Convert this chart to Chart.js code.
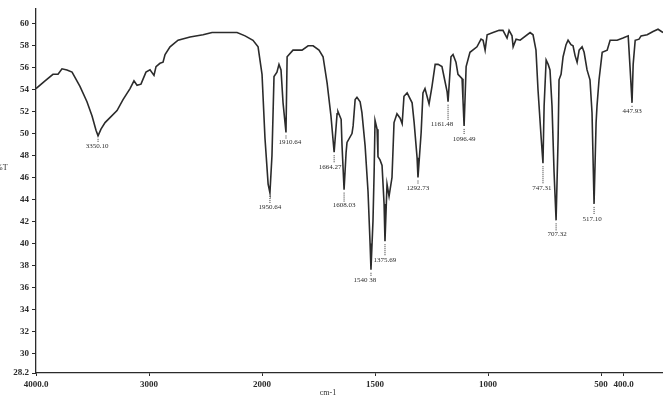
<!DOCTYPE html>
<html>
<head>
<meta charset="utf-8">
<script src="https://cdn.jsdelivr.net/npm/chart.js@4/dist/chart.umd.min.js"></script>
<style>
  html, body { margin: 0; padding: 0; background: #fff; }
  #wrap { width: 663px; height: 403px; position: relative; }
</style>
</head>
<body>
<div id="wrap"><canvas id="ir"></canvas></div>
<script>
// spectrum: wavenumber (cm-1) and %T
var wavenumber = [4000, 3920, 3850, 3805, 3770, 3726, 3681, 3611, 3549, 3504, 3469, 3451, 3425, 3389, 3283, 3230, 3168, 3133, 3106, 3071,
    3027, 2991, 2956, 2938, 2903, 2876, 2858, 2814, 2743, 2637, 2522, 2442, 2221, 2150, 2080, 2035, 2000,
    1987, 1973, 1965, 1956, 1947, 1934, 1925, 1916, 1907, 1894, 1889, 1863, 1823, 1796, 1774, 1748, 1730, 1712, 1695,
    1681, 1668, 1664, 1650, 1646, 1637, 1628, 1624, 1602, 1597, 1588, 1580, 1566, 1558, 1544, 1531, 1522, 1518, 1509,
    1504, 1500, 1491, 1487, 1478, 1469, 1460, 1456, 1447, 1438, 1425, 1416, 1403, 1389, 1380, 1372, 1358, 1336, 1327,
    1314, 1310, 1296, 1288, 1279, 1270, 1261, 1248, 1234, 1221, 1204, 1195, 1181, 1177, 1164, 1155, 1142, 1133, 1115,
    1111, 1106, 1097, 1080, 1049, 1031, 1022, 1013, 1004, 978, 951, 934, 916, 907, 894, 889, 876, 858, 814, 801,
    788, 779, 765, 757, 752, 743, 734, 726, 717, 708, 699, 690, 686, 677, 668, 655, 646, 633, 624, 615,
    606, 597, 584, 575, 562, 549, 540, 531, 522, 518, 509, 495, 473, 460, 429, 403, 380, 372, 363, 358,
    349, 332, 323, 296, 270, 248, 226];
var transmittance = [54.1, 54.8, 55.4, 55.4, 55.9, 55.8, 55.6, 54.3, 52.9, 51.6, 50.3, 49.8, 50.4, 51.0, 52.1, 53.1, 54.1, 54.8, 54.4, 54.5,
    55.6, 55.8, 55.3, 56.1, 56.4, 56.5, 57.2, 57.9, 58.5, 58.8, 59.0, 59.2, 59.2, 58.9, 58.5, 57.9, 55.4,
    49.6, 45.4, 44.6, 48.0, 55.2, 55.6, 56.3, 55.8, 52.8, 50.1, 57.0, 57.6, 57.6, 58.0, 58.0, 57.6, 57.0, 54.6, 51.6,
    48.3, 51.8, 52.0, 51.3, 48.9, 44.9, 48.3, 49.2, 50.0, 50.7, 53.1, 53.3, 52.9, 51.9, 48.9, 44.7, 40.0, 37.6, 42.1,
    46.5, 51.2, 50.4, 47.9, 47.6, 47.1, 43.6, 40.2, 45.4, 44.3, 46.0, 51.0, 51.8, 51.4, 50.9, 53.4, 53.7, 52.8, 51.0,
    47.8, 46.0, 50.1, 53.7, 54.1, 53.4, 52.7, 54.3, 56.3, 56.3, 56.1, 55.2, 53.8, 52.9, 57.0, 57.2, 56.5, 55.4, 55.0,
    53.1, 50.7, 56.1, 57.4, 57.9, 58.6, 58.5, 57.6, 59.0, 59.2, 59.4, 59.4, 58.7, 59.4, 58.9, 57.9, 58.6, 58.5, 59.2, 59.0,
    57.6, 54.0, 49.6, 47.3, 52.5, 56.7, 56.3, 55.8, 52.5, 46.5, 42.1, 49.6, 54.9, 55.4, 57.0, 58.1, 58.5, 58.1, 58.0, 57.1,
    56.5, 57.6, 57.9, 57.4, 55.8, 54.9, 51.9, 43.6, 51.0, 52.5, 54.9, 57.4, 57.6, 58.5, 58.5, 58.7, 58.9, 56.1, 52.8, 56.3,
    58.5, 58.6, 58.9, 59.0, 59.3, 59.5, 59.2];

// printed peak annotations, anchored on the matching dip
var peakWn = [3451, 1965, 1894, 1681, 1637, 1518, 1456, 1310, 1177, 1106, 757, 699, 531, 363];
var peakText = ['3350.10', '1950.64', '1910.64', '1664.27', '1608.03', '1540 38', '1375.69', '1292.73', '1161.48', '1096.49', '747.31', '707.32', '517.10', '447.93'];

var xTickWn = [4000, 3000, 2000, 1500, 1000, 500, 400];
var xTickText = ['4000.0', '3000', '2000', '1500', '1000', '500', '400.0'];
var yTickValues = [28.2, 30, 32, 34, 36, 38, 40, 42, 44, 46, 48, 50, 52, 54, 56, 58, 60];

// the chart paper halves the scale below 2000 cm-1
function toPos(wn) {
    return wn >= 2000 ? (4000 - wn) / 2 : 1000 + (2000 - wn);
}

// label placement (dx, dy from the dip, pixels)
var labelNudge = [[-1, 10], [0, 14], [4, 10], [-4, 15], [0, 16], [-6, 10], [0, 19], [0, 11], [-6, 22], [0, 13], [-1, 25], [1, 14], [-2, 15], [0, 8]];

var ink = '#2b2b2b';
var tickFont = { family: 'Liberation Serif', size: 9, weight: 'bold' };

var peakPlugin = {
    id: 'peaks',
    afterDatasetsDraw: function (chart) {
        var ctx = chart.ctx;
        var xs = chart.scales.x, ys = chart.scales.y;
        ctx.save();
        ctx.font = '7px "Liberation Serif"';
        ctx.fillStyle = ink;
        ctx.textAlign = 'center';
        ctx.textBaseline = 'middle';
        peakWn.forEach(function (wn, i) {
            var idx = wavenumber.indexOf(wn);
            var px = xs.getPixelForValue(toPos(wn));
            var py = ys.getPixelForValue(transmittance[idx]);
            var lx = px + labelNudge[i][0];
            var ly = py + labelNudge[i][1];
            // dotted leader
            for (var d = py + 3; d < ly - 4; d += 2) {
                ctx.fillRect(px - 0.5, d, 1, 1);
            }
            ctx.fillText(peakText[i], lx, ly);
        });
        // axis captions
        ctx.font = '8px "Liberation Serif"';
        ctx.textAlign = 'left';
        ctx.fillText('%T', -4, 168);
        ctx.textAlign = 'center';
        ctx.fillText('cm-1', 328, 393);
        ctx.restore();
    }
};

var points = wavenumber.map(function (wn, i) {
    return { x: toPos(wn), y: transmittance[i] };
});

new Chart(document.getElementById('ir'), {
    type: 'line',
    data: {
        datasets: [{
            data: points,
            borderColor: ink,
            borderWidth: 1.6,
            pointRadius: 0,
            tension: 0,
            fill: false
        }]
    },
    options: {
        responsive: true,
        maintainAspectRatio: false,
        animation: false,
        layout: { padding: 0 },
        plugins: {
            legend: { display: false },
            tooltip: { enabled: false }
        },
        scales: {
            x: {
                type: 'linear',
                min: 0,
                max: 2774,
                afterBuildTicks: function (scale) {
                    scale.ticks = xTickWn.map(function (wn) { return { value: toPos(wn) }; });
                },
                afterFit: function (scale) { scale.height = 30; },
                ticks: {
                    autoSkip: false,
                    maxRotation: 0,
                    padding: 3,
                    color: ink,
                    font: tickFont,
                    callback: function (v) {
                        var k = xTickWn.map(toPos).indexOf(v);
                        return k >= 0 ? xTickText[k] : '';
                    }
                },
                grid: { drawOnChartArea: false, drawTicks: true, tickLength: 3, color: ink },
                border: { display: true, color: ink, width: 1.3 }
            },
            y: {
                min: 28.2,
                max: 61.4,
                afterBuildTicks: function (scale) {
                    scale.ticks = yTickValues.map(function (v) { return { value: v }; });
                },
                afterFit: function (scale) { scale.width = 36; },
                ticks: {
                    padding: 3,
                    color: ink,
                    font: tickFont,
                    callback: function (v) { return v === 28.2 ? '28.2' : String(v); }
                },
                grid: { drawOnChartArea: false, drawTicks: true, tickLength: 4, color: ink },
                border: { display: true, color: ink, width: 1.3 }
            }
        }
    },
    plugins: [peakPlugin]
});
</script>
</body>
</html>
